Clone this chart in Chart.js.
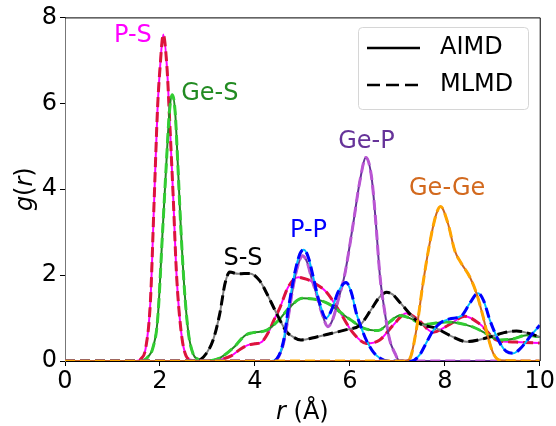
<!DOCTYPE html>
<html>
<head>
<meta charset="utf-8">
<script src="https://cdn.jsdelivr.net/npm/chart.js@4.4.1/dist/chart.umd.min.js"></script>
<style>
  body { margin: 0; background: #fff; }
  #rdf { display: block; }
</style>
</head>
<body>
<canvas id="rdf" width="556" height="426"></canvas>
<script>
// ---------------------------- data (r in Å, g(r)) ----------------------------
let psR = [0, 1.5, 1.6, 1.7, 1.8, 1.88, 1.95, 2.0, 2.07, 2.15, 2.2, 2.28, 2.35, 2.45, 2.55, 2.65, 2.8, 3.2, 3.5, 3.7, 3.85, 4.0, 4.15, 4.3, 4.4, 4.53, 4.7, 4.91, 5.1, 5.23, 5.51, 5.79, 6.07, 6.35, 6.63, 6.91, 7.19, 7.45, 7.75, 8.1, 8.42, 8.75, 9.09, 9.5, 10];
let psG = [0, 0, 0.05, 0.3, 1.4, 3.8, 5.9, 6.8, 7.6, 6.8, 5.7, 3.8, 2.0, 0.65, 0.12, 0.03, 0, 0.02, 0.12, 0.28, 0.37, 0.4, 0.45, 0.7, 0.95, 1.25, 1.72, 1.95, 1.9, 1.83, 1.6, 1.14, 0.65, 0.41, 0.49, 0.83, 1.11, 0.95, 0.67, 0.85, 1.04, 0.85, 0.49, 0.44, 0.42];

let gesR = [0, 1.6, 1.75, 1.85, 1.95, 2.06, 2.13, 2.2, 2.26, 2.32, 2.38, 2.44, 2.52, 2.6, 2.7, 2.8, 2.95, 3.26, 3.54, 3.8, 3.96, 4.25, 4.5, 4.74, 5.0, 5.5, 6.0, 6.3, 6.6, 6.85, 7.05, 7.3, 7.54, 8.03, 8.6, 8.9, 9.16, 9.45, 9.72, 10];
let gesG = [0, 0, 0.1, 0.3, 0.95, 3.1, 4.5, 5.8, 6.2, 5.8, 4.5, 3.1, 1.6, 0.65, 0.16, 0.04, 0, 0.07, 0.3, 0.6, 0.66, 0.72, 0.95, 1.26, 1.46, 1.36, 0.97, 0.76, 0.71, 0.92, 1.06, 0.98, 0.85, 0.91, 0.79, 0.62, 0.49, 0.52, 0.6, 0.56];

let ssR = [0, 2.75, 2.85, 2.98, 3.12, 3.26, 3.37, 3.47, 3.65, 3.89, 4.1, 4.27, 4.46, 4.67, 4.82, 4.97, 5.3, 5.6, 5.93, 6.21, 6.45, 6.62, 6.77, 6.9, 7.05, 7.47, 7.82, 8.17, 8.46, 8.75, 8.95, 9.25, 9.51, 9.75, 10];
let ssG = [0, 0, 0.03, 0.18, 0.49, 1.1, 1.8, 2.07, 2.03, 2.04, 1.87, 1.53, 1.1, 0.68, 0.55, 0.49, 0.56, 0.64, 0.73, 0.83, 1.2, 1.48, 1.6, 1.55, 1.37, 0.88, 0.76, 0.56, 0.45, 0.5, 0.56, 0.66, 0.7, 0.65, 0.56];

let gepR = [0, 4.4, 4.5, 4.6, 4.7, 4.8, 4.9, 5.0, 5.1, 5.2, 5.3, 5.4, 5.54, 5.65, 5.75, 5.89, 6.07, 6.21, 6.34, 6.46, 6.55, 6.63, 6.74, 6.84, 6.95, 7.05, 10];
let gepG = [0, 0, 0.1, 0.4, 1.0, 1.7, 2.2, 2.45, 2.3, 1.9, 1.55, 1.15, 0.8, 1.0, 1.4, 2.0, 3.19, 4.18, 4.74, 4.26, 3.19, 2.03, 1.11, 0.49, 0.18, 0, 0];

let ppR = [0, 4.35, 4.46, 4.6, 4.7, 4.85, 4.95, 5.03, 5.13, 5.23, 5.35, 5.5, 5.62, 5.75, 5.92, 6.03, 6.14, 6.25, 6.35, 6.5, 6.63, 6.8, 7.3, 7.47, 7.6, 7.75, 7.9, 8.1, 8.35, 8.53, 8.7, 8.82, 8.95, 9.16, 9.3, 9.44, 9.6, 9.79, 10];
let ppG = [0, 0, 0.05, 0.45, 1.18, 2.1, 2.5, 2.59, 2.4, 1.95, 1.4, 1.0, 1.2, 1.6, 1.83, 1.6, 1.1, 0.75, 0.48, 0.2, 0.07, 0, 0, 0.14, 0.4, 0.7, 0.88, 0.98, 1.05, 1.35, 1.58, 1.4, 0.95, 0.42, 0.22, 0.18, 0.3, 0.56, 0.83];

let gegeR = [0, 7.15, 7.26, 7.4, 7.54, 7.68, 7.82, 7.91, 8.07, 8.21, 8.35, 8.53, 8.67, 8.81, 8.91, 9.02, 9.16, 10];
let gegeG = [0, 0, 0.05, 0.72, 1.8, 2.73, 3.42, 3.6, 3.19, 2.57, 2.27, 1.95, 1.57, 1.02, 0.56, 0.18, 0.02, 0];

let pairNames = ["P-S", "Ge-S", "S-S", "Ge-P", "P-P", "Ge-Ge"];
let methodNames = ["AIMD", "MLMD"];
let xTicks = [0, 2, 4, 6, 8, 10];
let yTicks = [0, 2, 4, 6, 8];

// ---------------------------- styles ----------------------------
const FONT = '"DejaVu Sans", sans-serif';
let solidColors = ["#ff00ff", "#228b22", "#808080", "#663399", "#00bfff", "#d2691e"];
let dashColors = ["#dc143c", "#32cd32", "#000000", "#ba55d3", "#0000ff", "#ffa500"];
let labelColors = ["#ff00ff", "#228b22", "#000000", "#663399", "#0000ff", "#d2691e"];
// label centres, in data units
let labelAt = [[1.43, 7.58], [3.05, 6.22], [3.75, 2.38], [6.35, 5.11], [5.13, 3.03], [8.05, 4.0]];

let curvesR = [psR, gesR, ssR, gepR, ppR, gegeR];
let curvesG = [psG, gesG, ssG, gepG, ppG, gegeG];

let datasets = [];
pairNames.forEach((name, k) => {
  let pts = () => curvesR[k].map((r, i) => ({ x: r, y: curvesG[k][i] }));
  datasets.push({
    label: name + " " + methodNames[0],
    data: pts(),
    borderColor: solidColors[k],
    borderWidth: 2,
  });
  datasets.push({
    label: name + " " + methodNames[1],
    data: pts(),
    borderColor: dashColors[k],
    borderWidth: 3,
    borderDash: [10, 5],
  });
});
// later datasets on top
datasets.forEach((d, i) => {
  d.order = -i;
  d.pointRadius = 0;
  d.fill = false;
  d.cubicInterpolationMode = "monotone";
});

// mixed italic / upright text
function drawPieces(ctx, pieces, cx, cy) {
  let total = 0;
  pieces.forEach((p) => {
    ctx.font = (p[1] ? "italic " : "") + "24px " + FONT;
    total += ctx.measureText(p[0]).width;
  });
  let x = cx - total / 2;
  pieces.forEach((p) => {
    ctx.font = (p[1] ? "italic " : "") + "24px " + FONT;
    ctx.fillText(p[0], x, cy);
    x += ctx.measureText(p[0]).width;
  });
}

const decor = {
  id: "decor",
  afterDraw(chart) {
    let ctx = chart.ctx;
    let a = chart.chartArea;
    let xs = chart.scales.x;
    let ys = chart.scales.y;
    ctx.save();

    // top / right spines
    ctx.strokeStyle = "#000";
    ctx.lineWidth = 1;
    ctx.beginPath();
    ctx.moveTo(a.left, a.top + 0.5);
    ctx.lineTo(a.right + 0.5, a.top + 0.5);
    ctx.lineTo(a.right + 0.5, a.bottom);
    ctx.stroke();

    // pair labels
    ctx.textAlign = "left";
    ctx.textBaseline = "middle";
    ctx.font = "24px " + FONT;
    pairNames.forEach((name, k) => {
      ctx.fillStyle = labelColors[k];
      ctx.textAlign = "center";
      ctx.fillText(name, xs.getPixelForValue(labelAt[k][0]), ys.getPixelForValue(labelAt[k][1]));
    });

    // axis titles
    ctx.fillStyle = "#000";
    ctx.textAlign = "left";
    ctx.textBaseline = "alphabetic";
    drawPieces(ctx, [["r", true], [" (Å)", false]], (a.left + a.right) / 2, 419);
    ctx.save();
    ctx.translate(32, (a.top + a.bottom) / 2);
    ctx.rotate(-Math.PI / 2);
    drawPieces(ctx, [["g", true], ["(", false], ["r", true], [")", false]], 0, 0);
    ctx.restore();

    // legend
    let lx = 358, ly = 27, lw = 170, lh = 82;
    ctx.beginPath();
    ctx.roundRect(lx + 0.5, ly + 0.5, lw, lh, 4);
    ctx.fillStyle = "rgba(255,255,255,0.8)";
    ctx.fill();
    ctx.strokeStyle = "#d6d6d6";
    ctx.lineWidth = 1;
    ctx.stroke();
    ctx.strokeStyle = "#000";
    ctx.lineWidth = 2.6;
    ctx.beginPath();
    ctx.moveTo(367, 48);
    ctx.lineTo(420, 48);
    ctx.stroke();
    ctx.setLineDash([13, 6]);
    ctx.beginPath();
    ctx.moveTo(367, 85);
    ctx.lineTo(420, 85);
    ctx.stroke();
    ctx.setLineDash([]);
    ctx.fillStyle = "#000";
    ctx.font = "24px " + FONT;
    ctx.textBaseline = "middle";
    ctx.fillText(methodNames[0], 440, 48);
    ctx.fillText(methodNames[1], 440, 85);

    ctx.restore();
  },
};

const ctx = document.getElementById("rdf");

new Chart(ctx, {
  type: "line",
  data: { datasets: datasets },
  options: {
    responsive: false,
    animation: false,
    events: [],
    layout: { padding: { left: 0, right: 16, top: 15, bottom: 0 } },
    plugins: { legend: { display: false }, tooltip: { enabled: false } },
    scales: {
      x: {
        type: "linear",
        min: 0,
        max: 10,
        afterBuildTicks: (s) => { s.ticks = xTicks.map((v) => ({ value: v })); },
        afterFit: (s) => { s.height = 65; },
        ticks: { color: "#000", font: { family: FONT, size: 24 }, padding: 1, maxRotation: 0 },
        grid: { drawOnChartArea: false, drawTicks: true, tickLength: 5, color: "#000" },
        border: { display: true, color: "#000", width: 1 },
      },
      y: {
        type: "linear",
        min: 0,
        max: 8,
        afterBuildTicks: (s) => { s.ticks = yTicks.map((v) => ({ value: v })); },
        afterFit: (s) => { s.width = 65; },
        ticks: { color: "#000", font: { family: FONT, size: 24 }, padding: 3 },
        grid: { drawOnChartArea: false, drawTicks: true, tickLength: 5, color: "#000" },
        border: { display: true, color: "#777", width: 1 },
      },
    },
  },
  plugins: [decor],
});
</script>
</body>
</html>
